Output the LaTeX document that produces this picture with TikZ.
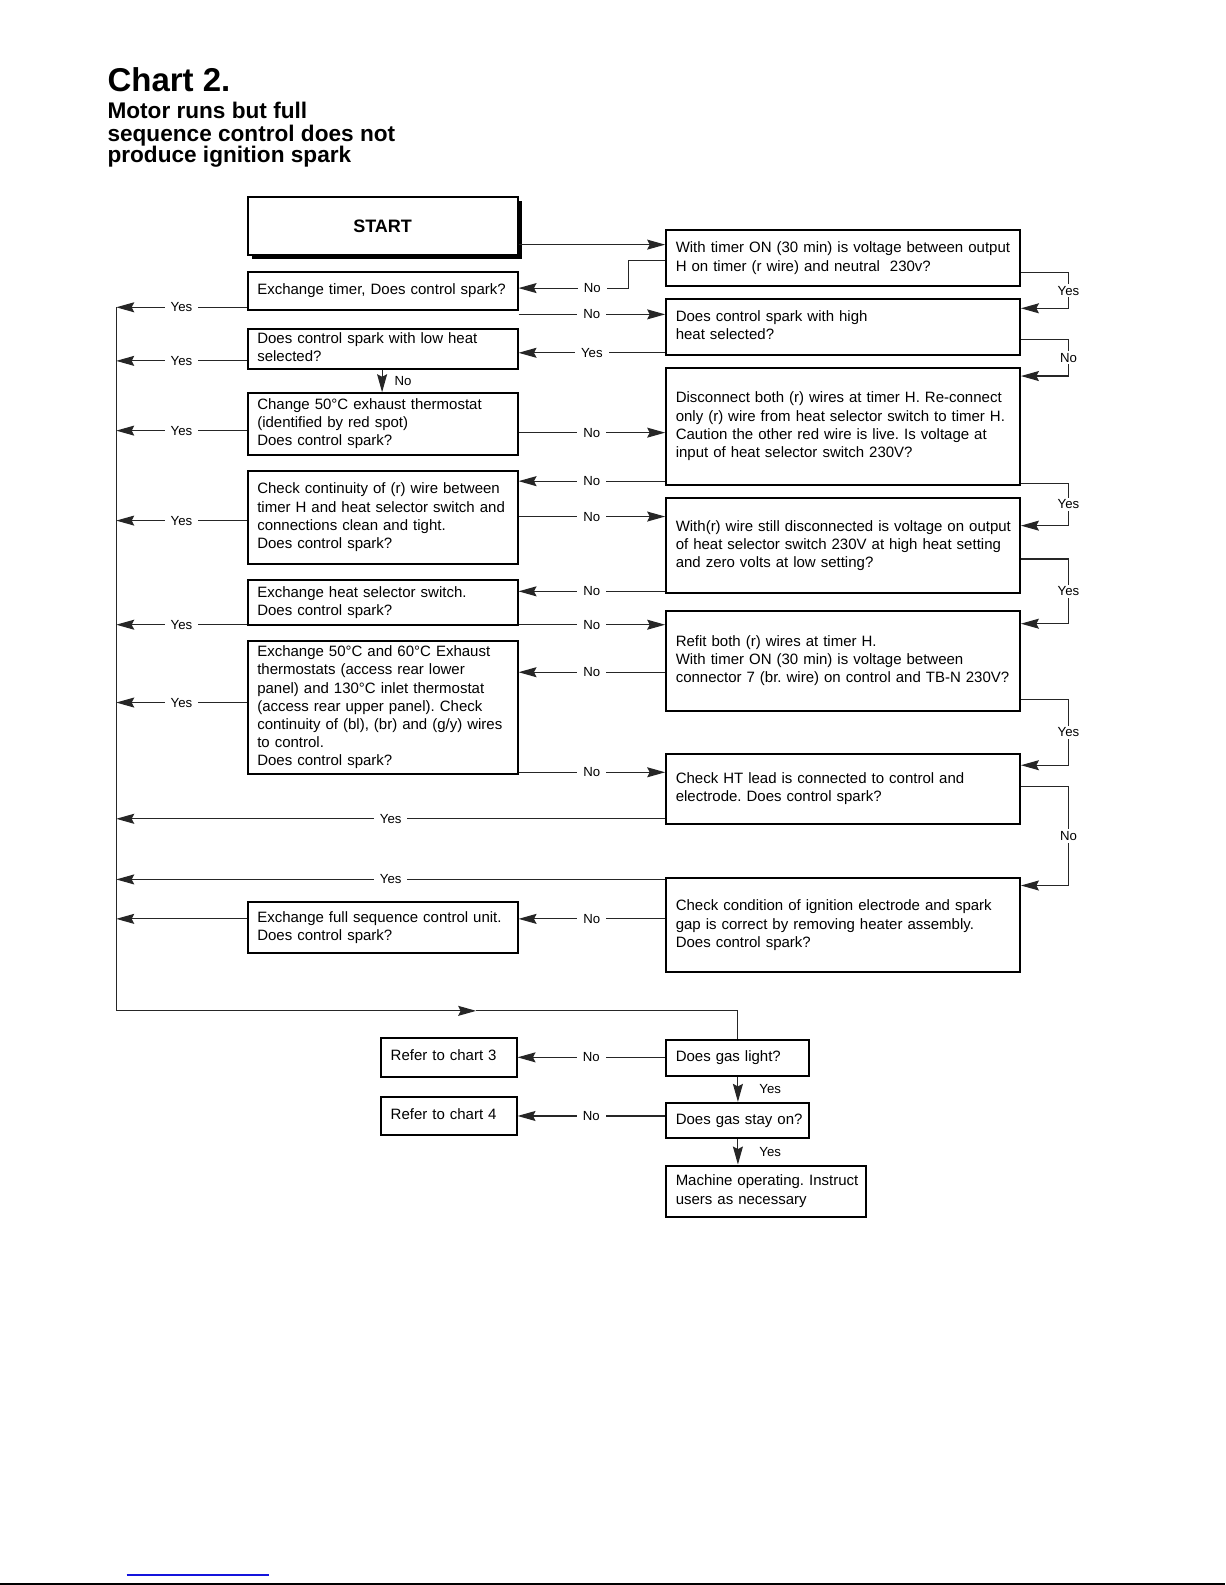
\documentclass[tikz,border=0pt]{standalone}
\usepackage{fontspec}
\setmainfont{Liberation Sans}
\usetikzlibrary{arrows.meta}
\definecolor{linkblue}{RGB}{20,20,220}
\frenchspacing
\newcommand\upx{0.50536}
\newcommand\boxfont{\fontsize{7.5}{9.1}\selectfont}
\newcommand\lblfont{\fontsize{6.6}{8}\selectfont}
\newcommand\mkbox[6]{%
  \pgfmathsetmacro\bxw{(#4-#2)*\upx}%
  \pgfmathsetmacro\bxh{(#5-#3)*\upx}%
  \pgfmathsetmacro\bxt{\bxw-9.6}%
  \node[box, minimum width=\bxw pt, minimum height=\bxh pt, text width=\bxt pt]
    (#1) at ({(#2+#4)/2},{(#3+#5)/2}) {\begin{tabular}{@{}l@{}}#6\end{tabular}};}
\tikzset{
  box/.style={draw, line width=1pt, fill=white, inner xsep=4.8pt, inner ysep=1pt, align=left, font=\boxfont},
  conn/.style={line width=0.55pt, draw=black!85},
  arr/.style={conn, -{Stealth[length=9pt, width=5pt, inset=1.3pt]}},
  lbl/.style={fill=white, inner xsep=3pt, inner ysep=1pt, font=\lblfont},
  sidelbl/.style={anchor=west, inner sep=0pt, font=\lblfont},
}
\begin{document}
\frenchspacing
\begin{tikzpicture}[x=0.50536pt, y=-0.50536pt]
\fill[white] (0,0) rectangle (1212,1568);
\useasboundingbox (0,0) rectangle (1212,1568);

% titles
\node[anchor=base west, inner sep=0pt, font=\bfseries\fontsize{16.5}{18}\selectfont] (title) at (106,90.7) {Chart 2.};
\node[anchor=base west, inner sep=0pt, font=\bfseries\fontsize{11.3}{11}\selectfont] (sub1) at (106,116.8) {Motor runs but full};
\node[anchor=base west, inner sep=0pt, font=\bfseries\fontsize{11.3}{11}\selectfont] (sub2) at (106,139.5) {sequence control does not};
\node[anchor=base west, inner sep=0pt, font=\bfseries\fontsize{11.3}{11}\selectfont] (sub3) at (106,160.6) {produce ignition spark};

% start
\fill (249,199) rectangle (516,256);
\pgfmathsetmacro\sw{267*\upx}
\pgfmathsetmacro\sh{57*\upx}
\node[draw, line width=1pt, fill=white, minimum width=\sw pt, minimum height=\sh pt,
  font=\bfseries\fontsize{9}{11}\selectfont] (start) at (378.5,223.5) {START};

% right column
\mkbox{r1}{659}{228}{1009}{283}{With timer ON (30 min) is voltage between output\\H on timer (r wire) and neutral\ \ 230v?}
\mkbox{r2}{659}{296}{1009}{351}{Does control spark with high\\heat selected?}
\mkbox{r3}{659}{364}{1009}{480}{Disconnect both (r) wires at timer H. Re-connect\\only (r) wire from heat selector switch to timer H.\\Caution the other red wire is live. Is voltage at\\input of heat selector switch 230V?}
\mkbox{r4}{659}{493}{1009}{587}{With(r) wire still disconnected is voltage on output\\of heat selector switch 230V at high heat setting\\and zero volts at low setting?}
\mkbox{r5}{659}{604}{1009}{703}{Refit both (r) wires at timer H.\\With timer ON (30 min) is voltage between\\connector 7 (br. wire) on control and TB-N 230V?}
\mkbox{r6}{659}{746}{1009}{815}{Check HT lead is connected to control and\\electrode. Does control spark?}
\mkbox{r7}{659}{869}{1009}{962}{Check condition of ignition electrode and spark\\gap is correct by removing heater assembly.\\Does control spark?}

% left column
\mkbox{b1}{245}{269}{512}{307}{Exchange timer, Does control spark?}
\mkbox{b2}{245}{325}{512}{365}{Does control spark with low heat\\selected?}
\mkbox{b3}{245}{389}{512}{450}{Change 50°C exhaust thermostat\\(identified by red spot)\\Does control spark?}
\mkbox{b4}{245}{466}{512}{558}{Check continuity of (r) wire between\\timer H and heat selector switch and\\connections clean and tight.\\Does control spark?}
\mkbox{b5}{245}{574}{512}{618}{Exchange heat selector switch.\\Does control spark?}
\mkbox{b6}{245}{634}{512}{766}{Exchange 50°C and 60°C Exhaust\\thermostats (access rear lower\\panel) and 130°C inlet thermostat\\(access rear upper panel). Check\\continuity of (bl), (br) and (g/y) wires\\to control.\\Does control spark?}
\mkbox{b7}{245}{892}{512}{943}{Exchange full sequence control unit.\\Does control spark?}

% bottom
\mkbox{g1}{659}{1029}{800}{1064}{Does gas light?}
\mkbox{g2}{659}{1091}{800}{1126}{Does gas stay on?}
\mkbox{g3}{659}{1153}{857}{1204}{Machine operating. Instruct\\users as necessary}
\mkbox{c3}{377}{1027}{511}{1065}{Refer to chart 3}
\mkbox{c4}{377}{1085}{511}{1123}{Refer to chart 4}

\coordinate (ltop) at (115,304);
\coordinate (lbot) at (115,1000);
\coordinate (mid) at (471,1000);
\coordinate (bend) at (730,1000);

% connectors
\draw[arr] (start.east |- 0,242) -- (r1.west |- 0,242);
\draw[arr] (r1.west |- 0,258) -- (622,258) -- (622,285) -- node[lbl, pos=0.33]{No} (b1.east |- 0,285);
\draw[arr] (b1.east |- 0,311) -- node[lbl]{No} (r2.west |- 0,311);
\draw[arr] (r1.east |- 0,270) -- (1057,270) -- node[lbl]{Yes} (1057,305) -- (r2.east |- 0,305);
\draw[arr] (r2.west |- 0,349) -- node[lbl]{Yes} (b2.east |- 0,349);
\draw[arr] (r2.east |- 0,336) -- (1057,336) -- node[lbl]{No} (1057,372) -- (r3.east |- 0,372);
\draw[arr] (b2.south -| 378,0) -- node[sidelbl, xshift=6pt]{No} (b3.north -| 378,0);
\draw[arr] (b3.east |- 0,428) -- node[lbl]{No} (r3.west |- 0,428);
\draw[arr] (r3.west |- 0,476) -- node[lbl]{No} (b4.east |- 0,476);
\draw[arr] (r3.east |- 0,478) -- (1057,478) -- node[lbl]{Yes} (1057,520) -- (r4.east |- 0,520);
\draw[arr] (b4.east |- 0,511) -- node[lbl]{No} (r4.west |- 0,511);
\draw[arr] (r4.west |- 0,585) -- node[lbl]{No} (b5.east |- 0,585);
\draw[arr] (r4.east |- 0,553) -- (1057,553) -- node[lbl]{Yes} (1057,617) -- (r5.east |- 0,617);
\draw[arr] (b5.east |- 0,618) -- node[lbl]{No} (r5.west |- 0,618);
\draw[arr] (r5.west |- 0,665) -- node[lbl]{No} (b6.east |- 0,665);
\draw[arr] (r5.east |- 0,692) -- (1057,692) -- node[lbl]{Yes} (1057,757) -- (r6.east |- 0,757);
\draw[arr] (b6.east |- 0,764) -- node[lbl]{No} (r6.west |- 0,764);
\draw[arr] (r6.east |- 0,778) -- (1057,778) -- node[lbl]{No} (1057,876) -- (r7.east |- 0,876);
\draw[arr] (r6.west |- 0,810) -- node[lbl]{Yes} (ltop |- 0,810);
\draw[arr] (r7.west |- 0,870) -- node[lbl]{Yes} (ltop |- 0,870);
\draw[arr] (r7.west |- 0,909) -- node[lbl]{No} (b7.east |- 0,909);
\draw[arr] (b7.west |- 0,909) -- (ltop |- 0,909);

\draw[arr] (b1.west |- 0,304) -- node[lbl]{Yes} (ltop |- 0,304);
\draw[arr] (b2.west |- 0,357) -- node[lbl]{Yes} (ltop |- 0,357);
\draw[arr] (b3.west |- 0,426) -- node[lbl]{Yes} (ltop |- 0,426);
\draw[arr] (b4.west |- 0,515) -- node[lbl]{Yes} (ltop |- 0,515);
\draw[arr] (b5.west |- 0,618) -- node[lbl]{Yes} (ltop |- 0,618);
\draw[arr] (b6.west |- 0,695) -- node[lbl]{Yes} (ltop |- 0,695);

\draw[conn] (ltop) -- (lbot);
\draw[arr] (lbot) -- (mid);
\draw[conn] (mid) -- (bend) -- (bend |- g1.north);

\draw[arr] (g1.west |- 0,1046) -- node[lbl]{No} (c3.east |- 0,1046);
\draw[arr] (g2.west |- 0,1104) -- node[lbl]{No} (c4.east |- 0,1104);
\draw[arr] (bend |- g1.south) -- node[sidelbl, xshift=10.5pt]{Yes} (bend |- g2.north);
\draw[arr] (bend |- g2.south) -- node[sidelbl, xshift=10.5pt]{Yes} (bend |- g3.north);

% page rules
\draw[linkblue, line width=0.8pt] (125.3,1557.8) -- (266.2,1557.8);
\draw[line width=0.9pt] (0,1566.8) -- (1212,1566.8);
\end{tikzpicture}
\end{document}
